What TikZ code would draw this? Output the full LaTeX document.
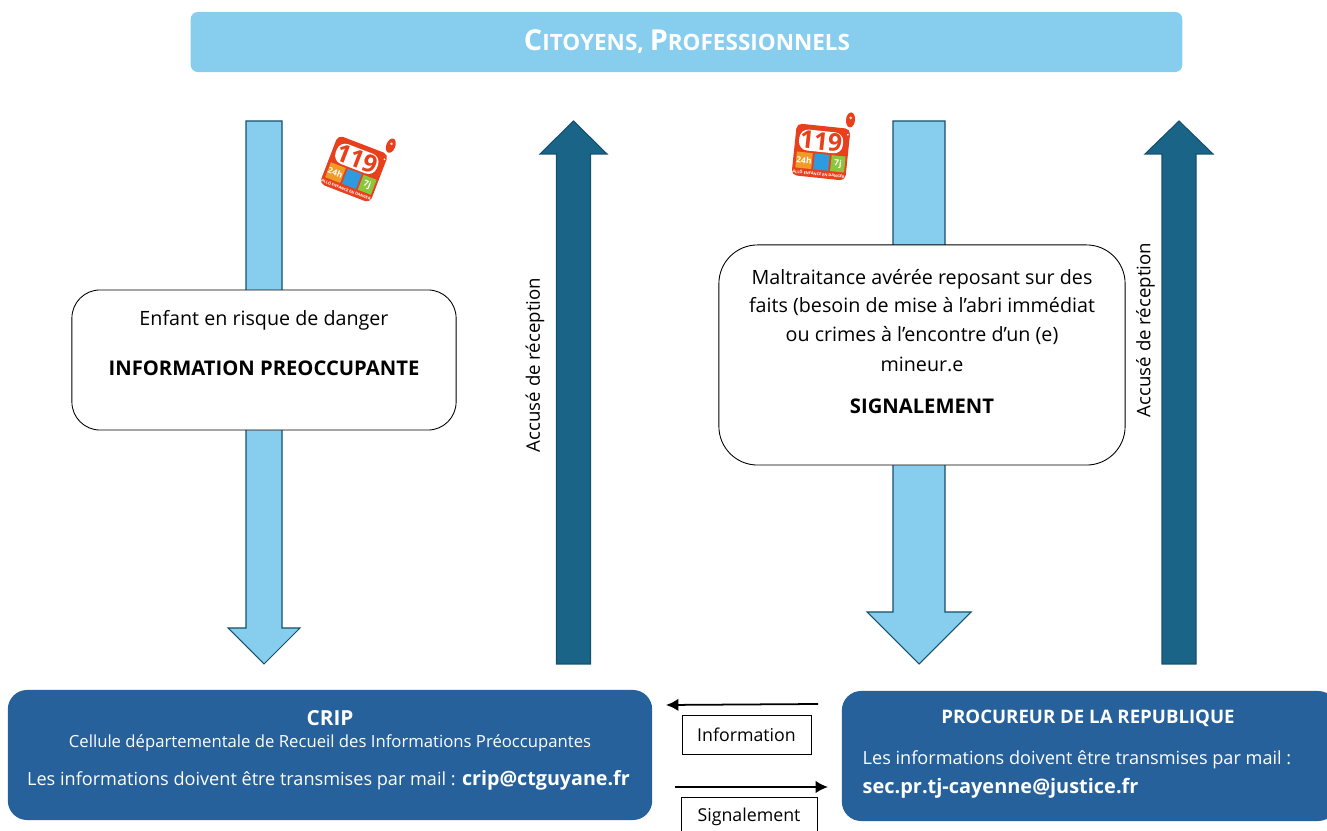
\documentclass[tikz,border=0pt]{standalone}
\usepackage{fontspec}
\setmainfont{Open Sans}
\usetikzlibrary{positioning,calc,arrows.meta}

\definecolor{skyarrow}{HTML}{87CEEE}
\definecolor{deeparrow}{HTML}{1A6488}
\definecolor{deepbox}{HTML}{26619C}
\definecolor{logored}{HTML}{E8401C}
\definecolor{logoorange}{HTML}{F09A28}
\definecolor{logoblue}{HTML}{2E9BE0}
\definecolor{logogreen}{HTML}{8CC63F}

\newcommand{\fs}[1]{\fontsize{#1}{#1}\selectfont}

\tikzset{
    whitebox/.style={draw=black,fill=white,rounded corners=#1,line width=0.25pt},
    bluebox/.style={fill=deepbox,rounded corners=5.5pt},
    tagbox/.style={draw=black,fill=white,line width=0.25pt,inner sep=0pt,font=\fs{5.05}},
    plain/.style={inner sep=0pt,font=\fs{5.6}},
    onblue/.style={inner sep=0pt,font=\fs{5.15},text=white},
    logotext/.style={inner sep=0pt,font=\fs{#1}\bfseries,transform shape},
    logo/.pic={
        \fill [logored,rounded corners=1.5pt] (-27,-26) rectangle (27,26);
        \fill [logored] (26,-35) ellipse (4.5 and 7.5);
        \fill [white!80!logored] (26,-37) circle (1.5);
        \fill [white] (25,-20) circle (1);
        \fill [white,rounded corners=2.5pt] (-23,-21) rectangle (21,0);
        \node [logotext=7,text=logored] at (-1,-10.5) {119};
        \fill [logoorange] (-24,2) rectangle (-8,18);
        \fill [logoblue] (-6,2) rectangle (9,18);
        \fill [logogreen] (11,2) rectangle (25,18);
        \node [logotext=2.4,text=white] at (-16,10) {24h};
        \node [logotext=2.4,text=white] at (18,10) {7j};
        \node [logotext=1.1,text=white] at (0,22) {ALLÔ ENFANCE EN DANGER};
    }
}

\begin{document}
\begin{tikzpicture}[x=0.01cm,y=-0.01cm]
    \useasboundingbox (0,0) rectangle (1327,831);
    \clip (0,0) rectangle (1327,831);

    % Top banner
    \node (banner) [fill=skyarrow,rounded corners=2pt,minimum width=9.91cm,minimum height=0.6cm] at (686.5,42) {};
    \node (bannertext) [inner sep=0pt,text=white,font=\fs{6.4}\bfseries] at (687,42) {{\fs{8.2}C}ITOYENS, {\fs{8.2}P}ROFESSIONNELS};

    % Block arrows: x/half shaft/half head/tail/neck/tip
    \foreach \x/\s/\h/\tail/\neck/\tip/\col in {
        264/18/36/121/628/664/skyarrow,
        919/26/52/121/612/664/skyarrow,
        573.5/17/33.5/664/154/121/deeparrow,
        1179/17/34/664/154/121/deeparrow}
        \draw [fill=\col,draw=deeparrow!80!black,line width=0.3pt,line join=miter]
            (\x-\s,\tail) -- (\x-\s,\neck) -- (\x-\h,\neck) -- (\x,\tip)
            -- (\x+\h,\neck) -- (\x+\s,\neck) -- (\x+\s,\tail) -- cycle;

    % Rotated labels
    \foreach \x/\y/\name in {535/365/accuseleft, 1145.5/330/accuseright}
        \node (\name) [inner sep=0pt,font=\fs{5.3},rotate=90] at (\x,\y) {Accusé de réception};

    % Logos
    \pic [rotate=-21] at (354,169) {logo};
    \pic [rotate=-6] at (821,152) {logo};

    % White boxes
    \node (risk) [whitebox=8pt,minimum width=3.84cm,minimum height=1.4cm] at (264,360) {};
    \node (risktext) [plain] at (264,320) {Enfant en risque de danger};
    \node (info) [plain,font=\fs{5.75}\bfseries] at (264,368) {INFORMATION PREOCCUPANTE};

    \node (fact) [whitebox=11pt,minimum width=4.06cm,minimum height=2.2cm] at (922,355) {};
    \foreach \y/\name/\line in {
        279/factA/Maltraitance avérée reposant sur des,
        307/factB/faits (besoin de mise à l’abri immédiat,
        336/factC/ou crimes à l’encontre d’un (e),
        364/factD/mineur.e}
        \node (\name) [plain] at (922,\y) {\line};
    \node (signal) [plain,font=\fs{5.75}\bfseries] at (922,406) {SIGNALEMENT};

    % Blue boxes
    \node (crip) [bluebox,minimum width=6.44cm,minimum height=1.3cm] at (330,755) {};
    \node (criptitle) [onblue,font=\fs{5.9}\bfseries] at (330,718) {CRIP};
    \node (cripname) [onblue,font=\fs{4.75}] at (330,743) {Cellule départementale de Recueil des Informations Préoccupantes};
    \node (cripmail) [onblue] at (328.5,780) {Les informations doivent être transmises par mail : {\bfseries\fs{5.6}crip@ctguyane.fr}};

    \node (proc) [bluebox,minimum width=4.95cm,minimum height=1.3cm] at (1089.5,756) {};
    \node (proctitle) [onblue,font=\fs{5.3}\bfseries] at (1088,718) {PROCUREUR DE LA REPUBLIQUE};
    \node (procline) [onblue,anchor=west] at (862,760) {Les informations doivent être transmises par mail :};
    \node (procmail) [onblue,anchor=west,font=\fs{5.67}\bfseries] at (862,788) {sec.pr.tj-cayenne@justice.fr};

    % Exchanges between both offices
    \coordinate (infofrom) at (818,704);
    \coordinate (infoto) at (666,705);
    \coordinate (signalfrom) at (675,787);
    \coordinate (signalto) at (828,787);
    \draw [-{Latex[length=3.5pt,width=3.5pt]},line width=0.5pt] (infofrom) -- (infoto);
    \draw [-{Latex[length=3.5pt,width=3.5pt]},line width=0.5pt] (signalfrom) -- (signalto);
    \node (infotag) [tagbox,minimum width=1.29cm,minimum height=0.39cm] at (746.5,734.5) {Information};
    \node (signaltag) [tagbox,minimum width=1.36cm,minimum height=0.39cm] at (749,816.5) {Signalement};
\end{tikzpicture}
\end{document}
